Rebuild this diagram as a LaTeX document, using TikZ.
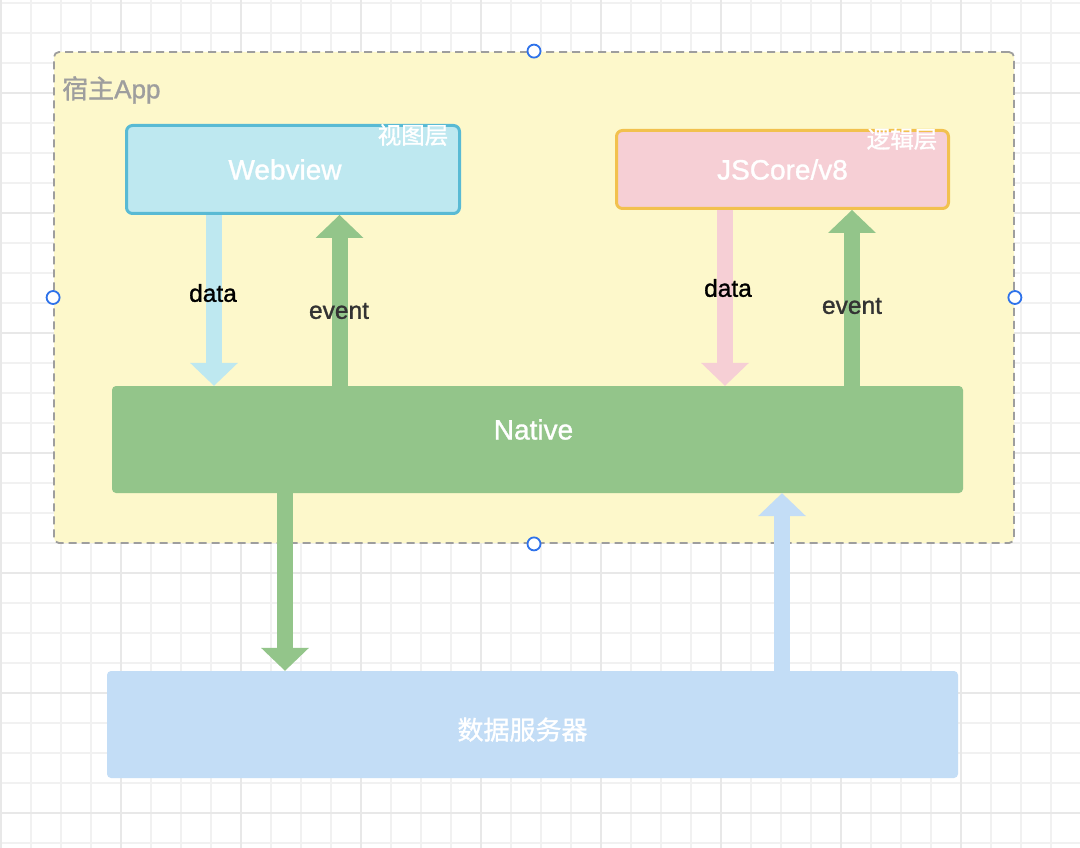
\documentclass[tikz,border=0pt]{standalone}
\usepackage{fontspec}
\setmainfont{Liberation Sans}[BoldFont=Liberation Sans, BoldFeatures={FakeBold=1.2}]
\newfontfamily\cjk{Noto Sans CJK SC}[BoldFont=Noto Sans CJK SC, BoldFeatures={FakeBold=1.2}]
\usetikzlibrary{arrows.meta}
\definecolor{gridminor}{HTML}{F1F1F1}
\definecolor{gridmajor}{HTML}{E8E8E8}
\definecolor{hostfill}{HTML}{FDF8CB}
\definecolor{hostline}{HTML}{9E9E9E}
\definecolor{webfill}{HTML}{BEE8F0}
\definecolor{webline}{HTML}{59BAD4}
\definecolor{jsfill}{HTML}{F6CFD5}
\definecolor{jsline}{HTML}{F2C14E}
\definecolor{nativegreen}{HTML}{93C58A}
\definecolor{serverblue}{HTML}{C3DDF6}
\definecolor{handleblue}{HTML}{2E72EA}
\definecolor{eventgray}{HTML}{333333}
\begin{document}
\begin{tikzpicture}[x=1pt,y=-1pt,
  gridline/.style={gridminor, line width=1.6pt},
  gridbold/.style={gridmajor, line width=1.8pt},
  layerbox/.style={rounded corners=6pt, line width=3pt, inner sep=0pt, text=white,
    font=\bfseries\fontsize{28}{30}\selectfont},
  flatbox/.style={rounded corners=4pt, inner sep=0pt, text=white,
    font=\bfseries\fontsize{28}{30}\selectfont},
  tag/.style={inner sep=0pt, text=white, font=\cjk\bfseries\fontsize{23.5}{25}\selectfont},
  fat/.style={line width=16pt, -{Triangle[width=48pt,length=23pt,line width=0pt]}},
  word/.style={inner sep=0pt, font=\bfseries\fontsize{24.5}{26}\selectfont},
  handle/.style={circle, draw=handleblue, fill=white, line width=1.8pt,
    minimum size=13pt, inner sep=0pt}]
\useasboundingbox (0,0) rectangle (1080,848);
\fill[white] (0,0) rectangle (1080,848);
% background grid
\foreach \gx in {1,31,...,1081} {\draw[gridline] (\gx,0) -- (\gx,848);}
\foreach \gy in {3,33,...,843} {\draw[gridline] (0,\gy) -- (1080,\gy);}
\foreach \gx in {1,121,...,961} {\draw[gridbold] (\gx,0) -- (\gx,848);}
\foreach \gy in {93,213,...,813} {\draw[gridbold] (0,\gy) -- (1080,\gy);}

% host app
\node[draw=hostline, fill=hostfill, dash pattern=on 8pt off 5pt, line width=1.8pt,
  rounded corners=5pt, minimum width=960pt, minimum height=491pt] (host) at (534,297.5) {};
\node[anchor=west, inner sep=0pt, text=hostline, font=\bfseries\fontsize{26}{28}\selectfont]
  (hostname) at (62,90) {{\cjk\bfseries 宿主}App};

% layers
\node[layerbox, draw=webline, fill=webfill, minimum width=333pt, minimum height=88pt]
  (web) at (293,169.5) {\hspace*{-16pt}Webview};
\node[tag] (webtag) at (413,135) {视图层};
\node[layerbox, draw=jsline, fill=jsfill, minimum width=332pt, minimum height=78pt]
  (js) at (782.5,169.5) {JSCore/v8};
\node[tag] (jstag) at (902,139) {逻辑层};
\node[flatbox, fill=nativegreen, minimum width=851pt, minimum height=107pt]
  (native) at (537.5,439.5) {\raisebox{0pt}[0pt][0pt]{\hspace*{-8pt}Native}};
\node[flatbox, fill=serverblue, minimum width=851pt, minimum height=107pt,
  font=\cjk\bfseries\fontsize{26}{28}\selectfont]
  (server) at (532.5,724.5) {\raisebox{-15pt}[0pt][0pt]{\hspace*{-20pt}数据服务器}};

% arrow columns
\coordinate (xwd) at (214,0);
\coordinate (xwe) at (339.5,0);
\coordinate (xjd) at (725,0);
\coordinate (xje) at (852,0);
\coordinate (xnd) at (285,0);
\coordinate (xsu) at (782,0);

\draw[fat, webfill] (web.south -| xwd) -- (native.north -| xwd);
\draw[fat, nativegreen] (native.north -| xwe) -- (web.south -| xwe);
\draw[fat, jsfill] (js.south -| xjd) -- (native.north -| xjd);
\draw[fat, nativegreen] (native.north -| xje) -- (js.south -| xje);
\draw[fat, nativegreen] (native.south -| xnd) -- (server.north -| xnd);
\draw[fat, serverblue] (server.north -| xsu) -- (native.south -| xsu);

\node[word] (wdata) at (213,293) {data};
\node[word, text=eventgray] (wevent) at (339,311) {event};
\node[word] (jdata) at (728,288) {data};
\node[word, text=eventgray] (jevent) at (852,306) {event};

% selection handles
\foreach \hh in {north,west,east,south} {\node[handle] (h\hh) at (host.\hh) {};}
\end{tikzpicture}
\end{document}
